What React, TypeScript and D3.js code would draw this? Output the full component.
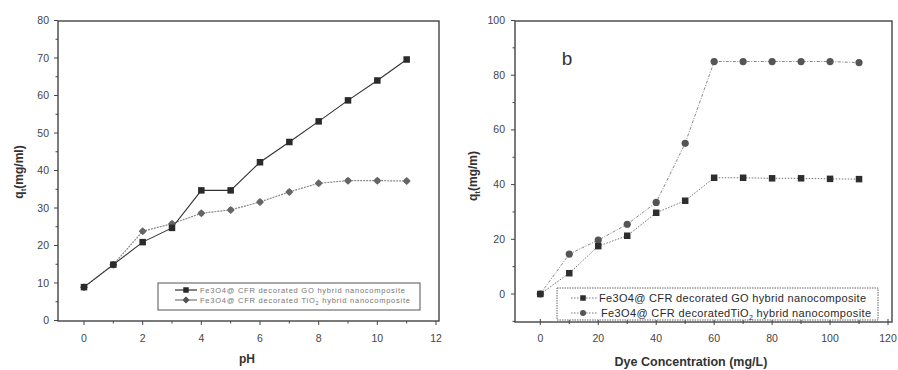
import React, { useEffect, useRef } from 'react';
import * as d3 from 'd3';

// panel a: pH
const phValues = [0, 1, 2, 3, 4, 5, 6, 7, 8, 9, 10, 11];
const phGO = [8.9, 14.9, 20.9, 24.7, 34.7, 34.7, 42.2, 47.6, 53.1, 58.7, 64, 69.6];
const phTiO2 = [8.9, 14.9, 23.8, 25.8, 28.6, 29.5, 31.6, 34.3, 36.6, 37.3, 37.3, 37.2];
const phXTicks = [0, 2, 4, 6, 8, 10, 12];
const phYTicks = [0, 10, 20, 30, 40, 50, 60, 70, 80];

// panel b: dye concentration
const dyeConc = [0, 10, 20, 30, 40, 50, 60, 70, 80, 90, 100, 110];
const dyeGO = [0, 7.6, 17.5, 21.3, 29.7, 34.1, 42.5, 42.5, 42.3, 42.3, 42.1, 42];
const dyeTiO2 = [0, 14.6, 19.7, 25.5, 33.5, 55.1, 85, 85, 85, 85, 85, 84.6];
const dyeXTicks = [0, 20, 40, 60, 80, 100, 120];
const dyeYTicks = [0, 20, 40, 60, 80, 100];

const FONT = "'Liberation Sans', Arial, sans-serif";

const App = () => {
  const svgRef = useRef<SVGSVGElement>(null);

  useEffect(() => {
    const svg = d3.select(svgRef.current);
    svg.selectAll("*").remove();

    const frame = (x0, x1, y0, y1) => {
      svg.append("rect")
        .attr("x", x0).attr("y", y0)
        .attr("width", x1 - x0).attr("height", y1 - y0)
        .attr("fill", "none")
        .attr("stroke", "#444")
        .attr("stroke-width", 1.4);
    };

    const diamond = (g, cx, cy, r, color) => {
      g.append("path")
        .attr("d", `M${cx},${cy - r}L${cx + r},${cy}L${cx},${cy + r}L${cx - r},${cy}Z`)
        .attr("fill", color);
      g.append("circle").attr("cx", cx).attr("cy", cy).attr("r", r * 0.7).attr("fill", color);
    };
    const square = (g, cx, cy, s, color) => {
      g.append("rect")
        .attr("x", cx - s / 2).attr("y", cy - s / 2)
        .attr("width", s).attr("height", s)
        .attr("fill", color);
    };

    // ---------- panel a ----------
    const xa = d3.scaleLinear().domain([0, 12]).range([84, 436]);
    const ya = d3.scaleLinear().domain([0, 80]).range([320.5, 20.5]);
    const aLeft = 58, aRight = 439, aTop = 21, aBottom = 321;
    frame(aLeft, aRight, aTop, aBottom);

    const ga = svg.append("g");
    d3.range(0, 13).forEach(v => {
      const major = v % 2 === 0;
      ga.append("line")
        .attr("x1", xa(v)).attr("x2", xa(v))
        .attr("y1", aBottom).attr("y2", aBottom + (major ? 4 : 2.5))
        .attr("stroke", "#444");
    });
    phXTicks.forEach(v => {
      ga.append("text")
        .attr("x", xa(v)).attr("y", 342)
        .attr("text-anchor", "middle")
        .style("font-size", "10.5px").style("fill", "#444").style("font-family", FONT)
        .text(v);
    });
    d3.range(0, 81, 5).forEach(v => {
      const major = v % 10 === 0;
      ga.append("line")
        .attr("x1", aLeft - (major ? 4 : 2.5)).attr("x2", aLeft)
        .attr("y1", ya(v)).attr("y2", ya(v))
        .attr("stroke", "#444");
    });
    phYTicks.forEach(v => {
      ga.append("text")
        .attr("x", 49).attr("y", ya(v) + 3.5)
        .attr("text-anchor", "end")
        .style("font-size", "10.5px").style("fill", "#444").style("font-family", FONT)
        .text(v);
    });

    ga.append("text")
      .attr("x", 247).attr("y", 363)
      .attr("text-anchor", "middle")
      .style("font-size", "12px").style("font-weight", "bold").style("fill", "#333").style("font-family", FONT)
      .text("pH");

    const yla = ga.append("text")
      .attr("transform", "translate(23,172) rotate(-90)")
      .attr("text-anchor", "middle")
      .style("font-size", "12px").style("font-weight", "bold").style("fill", "#333").style("font-family", FONT);
    yla.append("tspan").text("q");
    yla.append("tspan").attr("dy", 3).style("font-size", "8px").text("t");
    yla.append("tspan").attr("dy", -3).text("(mg/ml)");

    const lineA = d3.line<[number, number]>().x(d => xa(d[0])).y(d => ya(d[1]));
    ga.append("path")
      .attr("d", lineA(phValues.map((x, i) => [x, phTiO2[i]])))
      .attr("fill", "none").attr("stroke", "#888").attr("stroke-width", 1.2)
      .attr("stroke-dasharray", "2,1");
    ga.append("path")
      .attr("d", lineA(phValues.map((x, i) => [x, phGO[i]])))
      .attr("fill", "none").attr("stroke", "#333").attr("stroke-width", 1.1);

    phValues.forEach((x, i) => diamond(ga, xa(x), ya(phTiO2[i]), 4, "#666"));
    phValues.forEach((x, i) => square(ga, xa(x), ya(phGO[i]), 6.5, "#2a2a2a"));

    // legend a
    ga.append("rect")
      .attr("x", 158).attr("y", 283).attr("width", 262).attr("height", 27)
      .attr("fill", "#fff").attr("stroke", "#555").attr("stroke-width", 1);
    [[290, "GO"], [300, "TiO2"]].forEach(([ly, key]) => {
      ga.append("line")
        .attr("x1", 175).attr("x2", 197).attr("y1", ly).attr("y2", ly)
        .attr("stroke", key === "GO" ? "#333" : "#777").attr("stroke-width", 1.2);
      if (key === "GO") square(ga, 186, ly, 5.5, "#2a2a2a");
      else diamond(ga, 186, ly, 3.5, "#555");
      const t = ga.append("text")
        .attr("x", 200).attr("y", +ly + 2.5)
        .style("font-size", "7.5px").style("fill", "#777").style("font-family", FONT);
      if (key === "GO") {
        t.attr("textLength", 205).text("Fe3O4@ CFR decorated GO hybrid nanocomposite");
      } else {
        t.attr("textLength", 210);
        t.append("tspan").text("Fe3O4@ CFR decorated TiO");
        t.append("tspan").attr("dy", 2).style("font-size", "5.5px").text("2");
        t.append("tspan").attr("dy", -2).text(" hybrid nanocomposite");
      }
    });

    // ---------- panel b ----------
    const xb = d3.scaleLinear().domain([0, 120]).range([540.3, 888]);
    const yb = d3.scaleLinear().domain([0, 100]).range([294, 20.5]);
    const bLeft = 515, bRight = 892, bTop = 21, bBottom = 322;
    frame(bLeft, bRight, bTop, bBottom);

    const gb = svg.append("g");
    d3.range(0, 121, 10).forEach(v => {
      const major = v % 20 === 0;
      gb.append("line")
        .attr("x1", xb(v)).attr("x2", xb(v))
        .attr("y1", bBottom - (major ? 3 : 2)).attr("y2", bBottom + (major ? 3 : 2))
        .attr("stroke", "#444");
    });
    dyeXTicks.forEach(v => {
      gb.append("text")
        .attr("x", xb(v)).attr("y", 342)
        .attr("text-anchor", "middle")
        .style("font-size", "10.5px").style("fill", "#444").style("font-family", FONT)
        .text(v);
    });
    d3.range(-10, 101, 10).forEach(v => {
      const major = v % 20 === 0;
      gb.append("line")
        .attr("x1", bLeft - (major ? 4 : 2.5)).attr("x2", bLeft)
        .attr("y1", yb(v)).attr("y2", yb(v))
        .attr("stroke", "#444");
    });
    dyeYTicks.forEach(v => {
      gb.append("text")
        .attr("x", 505).attr("y", yb(v) + 3.5)
        .attr("text-anchor", "end")
        .style("font-size", "10.5px").style("fill", "#444").style("font-family", FONT)
        .text(v);
    });

    gb.append("text")
      .attr("x", 691).attr("y", 366)
      .attr("text-anchor", "middle")
      .style("font-size", "12.5px").style("font-weight", "bold").style("fill", "#333").style("font-family", FONT)
      .text("Dye Concentration (mg/L)");

    const ylb = gb.append("text")
      .attr("transform", "translate(477,176) rotate(-90)")
      .attr("text-anchor", "middle")
      .style("font-size", "12px").style("font-weight", "bold").style("fill", "#333").style("font-family", FONT);
    ylb.append("tspan").text("q");
    ylb.append("tspan").attr("dy", 3).style("font-size", "8px").text("t");
    ylb.append("tspan").attr("dy", -3).text("(mg/m)");

    gb.append("text")
      .attr("x", 567).attr("y", 65)
      .attr("text-anchor", "middle")
      .style("font-size", "19px").style("fill", "#333").style("font-family", FONT)
      .text("b");

    const lineB = d3.line<[number, number]>().x(d => xb(d[0])).y(d => yb(d[1]));
    gb.append("path")
      .attr("d", lineB(dyeConc.map((x, i) => [x, dyeTiO2[i]])))
      .attr("fill", "none").attr("stroke", "#888").attr("stroke-width", 1)
      .attr("stroke-dasharray", "3,1.5,1,1.5");
    gb.append("path")
      .attr("d", lineB(dyeConc.map((x, i) => [x, dyeGO[i]])))
      .attr("fill", "none").attr("stroke", "#777").attr("stroke-width", 1)
      .attr("stroke-dasharray", "1.5,1.5");

    dyeConc.forEach((x, i) => {
      gb.append("circle")
        .attr("cx", xb(x)).attr("cy", yb(dyeTiO2[i])).attr("r", 3.6)
        .attr("fill", "#555");
    });
    dyeConc.forEach((x, i) => square(gb, xb(x), yb(dyeGO[i]), 6.5, "#2e2e2e"));

    // legend b
    gb.append("rect")
      .attr("x", 557).attr("y", 288).attr("width", 321).attr("height", 32)
      .attr("fill", "#fff").attr("stroke", "#666").attr("stroke-width", 1)
      .attr("stroke-dasharray", "1.5,1");
    [[298, "GO"], [313, "TiO2"]].forEach(([ly, key]) => {
      gb.append("line")
        .attr("x1", 571).attr("x2", 597).attr("y1", ly).attr("y2", ly)
        .attr("stroke", "#777").attr("stroke-width", 1)
        .attr("stroke-dasharray", "1.5,1.5");
      if (key === "GO") square(gb, 583, ly, 5.5, "#2e2e2e");
      else gb.append("circle").attr("cx", 583).attr("cy", ly).attr("r", 3).attr("fill", "#555");
      const t = gb.append("text")
        .attr("x", key === "GO" ? 599 : 601).attr("y", +ly + 4)
        .style("font-size", "11px").style("fill", "#2a2a2a").style("font-family", FONT);
      if (key === "GO") {
        t.attr("textLength", 267).text("Fe3O4@ CFR decorated GO hybrid nanocomposite");
      } else {
        t.attr("textLength", 270);
        t.append("tspan").text("Fe3O4@ CFR decoratedTiO");
        t.append("tspan").attr("dy", 3).style("font-size", "7px").text("2");
        t.append("tspan").attr("dy", -3).text(" hybrid nanocomposite");
      }
    });
  }, []);

  return (
    <svg
      ref={svgRef}
      width={898}
      height={370}
      style={{ position: 'absolute', left: 0, top: 0, background: '#fff' }}
    ></svg>
  );
};

export default App;
